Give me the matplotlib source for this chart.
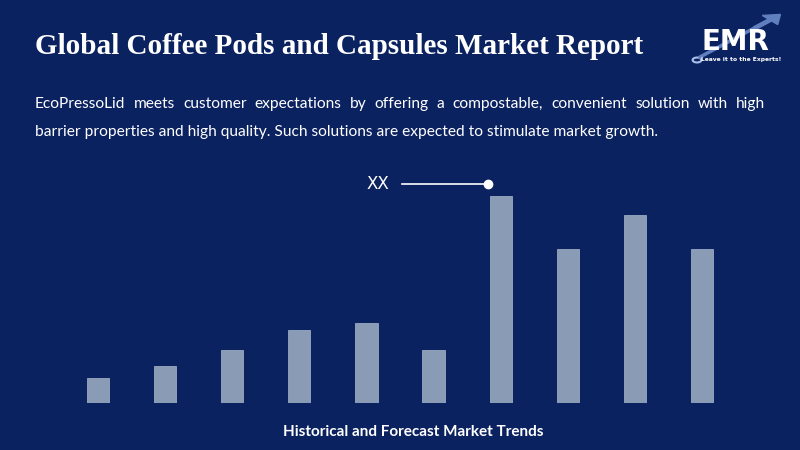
import matplotlib
matplotlib.use("Agg")
import matplotlib.pyplot as plt
from matplotlib.patches import FancyArrow, Circle

# data
years = ["2018", "2019", "2020", "2021", "2022", "2023", "2024", "2025", "2026", "2027"]
values = [25, 37, 53, 73, 80, 53, 207, 154, 188, 154]

title = "Global Coffee Pods and Capsules Market Report"
desc_line1 = "EcoPressoLid meets customer expectations by offering a compostable, convenient solution with high"
desc_line2 = "barrier properties and high quality. Such solutions are expected to stimulate market growth."
footer = "Historical and Forecast Market Trends"
marker_label = "XX"

BG = "#0b2260"
BAR = "#8a9bb5"
W, H = 800, 450

fig = plt.figure(figsize=(8, 4.5), dpi=100, facecolor=BG)
fig.canvas.draw()
r = fig.canvas.get_renderer()

def px(x, y):
    return x / W, 1 - y / H

def width_of(s, **kw):
    t = fig.text(0, 0, s, **kw)
    w = t.get_window_extent(renderer=r).width
    t.remove()
    return w

def fit_size(s, target, size, **kw):
    # scale font size so the text spans target pixels
    return size * target / width_of(s, fontsize=size, **kw)

# title
tkw = dict(family="Liberation Serif", fontweight="bold")
fs_t = fit_size(title, 608, 20, **tkw)
fig.text(*px(35, 46), title, color="white", fontsize=fs_t, va="center", ha="left", **tkw)

# description, first line justified by hand
dkw = dict(family="Lato")
fs = fit_size(desc_line2, 622, 12, **dkw)
words = desc_line1.split()
tw = [width_of(w, fontsize=fs, **dkw) for w in words]
x0, x1 = 35, 765
gap = (x1 - x0 - sum(tw)) / (len(words) - 1)
x = x0
for w, wd in zip(words, tw):
    fig.text(*px(x, 104), w, fontsize=fs, color="white", va="center", ha="left", **dkw)
    x += wd + gap
fig.text(*px(35, 132), desc_line2, fontsize=fs, color="white", va="center", ha="left", **dkw)

# bars
left, right, bottom, top = 64.5, 735.5, 403, 170
ax = fig.add_axes([left / W, 1 - bottom / H, (right - left) / W, (bottom - top) / H])
ax.set_facecolor("none")
ax.bar(range(len(values)), values, width=0.33, color=BAR, edgecolor="#9aaac2", linewidth=0.6)
ax.set_xlim(-0.5, len(values) - 0.5)
ax.set_ylim(0, bottom - top)
ax.axis("off")

# XX marker
fig.text(*px(378, 184), marker_label, color="white", fontsize=12, family="DejaVu Sans",
         ha="center", va="center")
fig.add_artist(plt.Line2D([402 / W, 488 / W], [1 - 184 / H, 1 - 184 / H], color="white", lw=1.2))
fig.add_artist(plt.Line2D([488 / W], [1 - 184 / H], marker="o", color="white", markersize=6))

# footer
fkw = dict(family="Lato", fontweight="bold")
fs_f = fit_size(footer, 260, 11, **fkw)
fig.text(*px(413, 432), footer, color="white", fontsize=fs_f, ha="center", va="center", **fkw)

# logo
fig.add_artist(plt.Line2D([700 / W, 760 / W], [1 - 57 / H, 1 - 25 / H], color="#5f7fbf", lw=2.5))
fig.add_artist(FancyArrow(755 / W, 1 - 28 / H, 15 / W, 8 / H, width=0.006,
                          head_width=0.028, head_length=0.018, color="#5f7fbf",
                          transform=fig.transFigure))
fig.text(*px(735, 42), "EMR", color="white", fontsize=20, fontweight="bold",
         family="DejaVu Sans", ha="center", va="center")
fig.text(*px(741, 60), "Leave it to the Experts!", color="white", fontsize=4.3,
         fontweight="bold", family="DejaVu Sans", ha="center", va="center")
fig.add_artist(Circle(px(697, 60), 0.0055, transform=fig.transFigure, facecolor=BG,
                      edgecolor="#a8c0ea", lw=1.5))

fig.savefig("out.png", dpi=100, facecolor=BG)
